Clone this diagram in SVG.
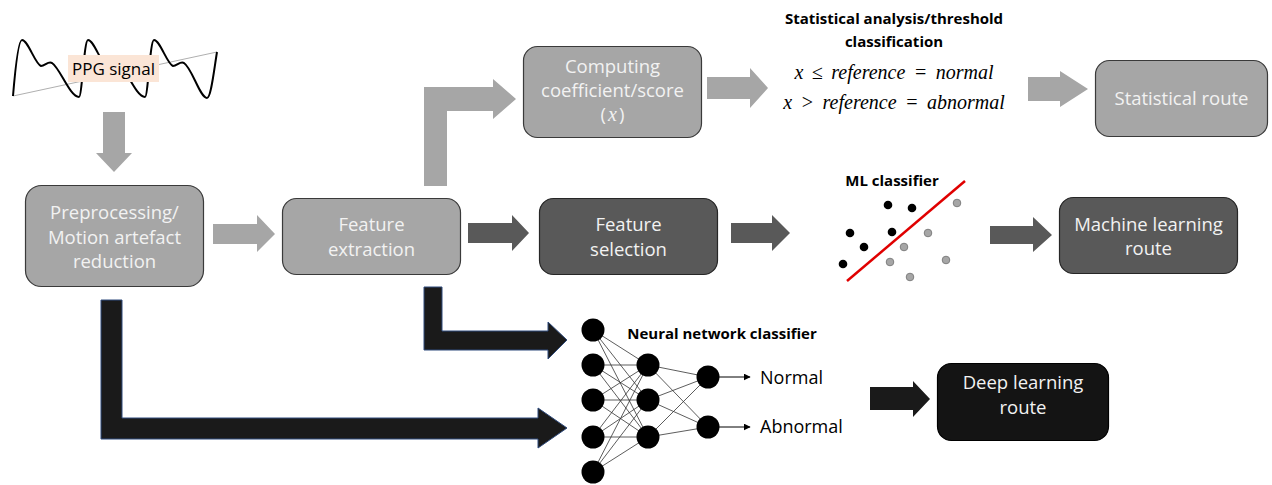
<svg xmlns="http://www.w3.org/2000/svg" width="1272" height="485" viewBox="0 0 1272 485">
<defs>
<style>
.box{stroke-width:1.2}
.light{fill:#a6a6a6;stroke:#3a3a3a}
.dark{fill:#595959;stroke:#262626}
.black{fill:#141414;stroke:#000}
.bt{font-family:"Open Sans","Liberation Sans",sans-serif;font-size:18.5px;fill:#f2f2f2;text-anchor:middle}
.title{font-family:"Open Sans","Liberation Sans",sans-serif;font-size:15px;font-weight:bold;fill:#000;text-anchor:middle}
.math{font-family:"Liberation Serif",serif;font-style:italic;font-size:20px;word-spacing:3.5px;fill:#000;text-anchor:middle}
.lbl{font-family:"Open Sans","Liberation Sans",sans-serif;font-size:18px;fill:#000}
.ga{fill:#a6a6a6}
.da{fill:#595959}
.ba{fill:#1a1a1a;stroke:#2f4b7c;stroke-width:1}
.nn{stroke:#333;stroke-width:0.8;fill:none}
.bd{fill:#000}
.gd{fill:#a6a6a6;stroke:#7f7f7f;stroke-width:1}
</style>
<marker id="ah" viewBox="0 0 10 10" refX="9" refY="5" markerWidth="7" markerHeight="7" orient="auto" markerUnits="userSpaceOnUse">
<path d="M0,0 L10,5 L0,10 z" fill="#000"/>
</marker>
</defs>

<g id="ppg-signal">
<line x1="13" y1="96" x2="217" y2="52" stroke="#9a9a9a" stroke-width="0.8"/>
<path d="M13,96 C16,60 19,40 22,40 C28,40 35,64 41,66 C45,66 48,61 52,63 C60,68 70,97 79,97 C82,97 84,40 88,40 C94,40 101,64 107,66 C111,66 114,61 118,63 C126,68 136,97 145,97 C148,97 150,40 154,40 C160,40 167,64 173,66 C177,66 180,61 184,63 C192,68 200,98 207,98 C211,98 214,70 217,52" fill="none" stroke="#000" stroke-width="2"/>
<rect x="68" y="55" width="91" height="27" fill="#fbe5d6"/>
<text x="113.5" y="75" class="lbl" style="font-size:17px" text-anchor="middle">PPG signal</text>
</g>

<g id="connectors">
<polygon class="ga" points="103,112 125,112 125,153 132,153 114,172 96,153 103,153"/>
<polygon class="ga" points="213,224 257,224 257,215 275,234 257,252 257,244 213,244"/>
<polygon class="ga" points="424,186 424,87 493,87 493,79 516,99 493,119 493,111 447,111 447,186"/>
<polygon class="ga" points="707,77 750,77 750,68 768,88 750,108 750,99 707,99"/>
<polygon class="ga" points="1028,77 1060,77 1060,71 1088,89 1060,107 1060,101 1028,101"/>
<polygon class="da" points="468,223 512,223 512,215 529,233 512,251 512,243 468,243"/>
<polygon class="da" points="731,223 772,223 772,215 790,233 772,251 772,243 731,243"/>
<polygon class="da" points="990,226 1033,226 1033,217 1052,235 1033,252 1033,244 990,244"/>
<polygon class="ba" points="101,300 122,300 122,418 538,418 538,408 567,428 538,448 538,439 101,439"/>
<polygon class="ba" points="424,287 442,287 442,331 548,331 548,322 567,340 548,359 548,350 424,350"/>
<polygon fill="#1a1a1a" points="870,387 913,387 913,381 930,399 913,417 913,410 870,410"/>
</g>

<g id="preprocessing">
<rect class="box light" x="25.5" y="185.5" width="178" height="101" rx="16"/>
<text class="bt" x="114.5" y="219">Preprocessing/</text>
<text class="bt" x="114.5" y="243.5">Motion artefact</text>
<text class="bt" x="114.5" y="268">reduction</text>
</g>

<g id="feature-extraction">
<rect class="box light" x="282.5" y="198.5" width="178" height="76" rx="14"/>
<text class="bt" x="371.5" y="231">Feature</text>
<text class="bt" x="371.5" y="256">extraction</text>
</g>

<g id="computing">
<rect class="box light" x="523.5" y="46.5" width="178" height="91" rx="14"/>
<text class="bt" x="612.5" y="73">Computing</text>
<text class="bt" x="612.5" y="96.5">coefficient/score</text>
<text class="bt" x="612.5" y="121">(<tspan dx="2" font-family="Liberation Serif" font-style="italic" font-size="20px">x</tspan><tspan dx="2">)</tspan></text>
</g>

<g id="feature-selection">
<rect class="box dark" x="539.5" y="198.5" width="178" height="76" rx="14"/>
<text class="bt" x="628.5" y="231">Feature</text>
<text class="bt" x="628.5" y="256">selection</text>
</g>

<g id="statistical-analysis">
<text class="title" x="894" y="24">Statistical analysis/threshold</text>
<text class="title" x="894" y="47">classification</text>
<text class="math" x="894" y="79">x ≤ reference = normal</text>
<text class="math" x="894" y="109">x &gt; reference = abnormal</text>
</g>

<g id="statistical-route">
<rect class="box light" x="1095.5" y="60.5" width="172" height="76" rx="14"/>
<text class="bt" x="1181.5" y="105">Statistical route</text>
</g>

<g id="ml-classifier">
<text class="title" x="892" y="186">ML classifier</text>
<line x1="847" y1="281" x2="965" y2="181" stroke="#e00000" stroke-width="2.5"/>
<circle class="bd" cx="888" cy="205" r="4.3"/>
<circle class="bd" cx="912" cy="208" r="4.3"/>
<circle class="bd" cx="850" cy="233" r="4.3"/>
<circle class="bd" cx="892" cy="232" r="4.3"/>
<circle class="bd" cx="864" cy="247" r="4.3"/>
<circle class="bd" cx="843" cy="264" r="4.3"/>
<circle class="gd" cx="957" cy="203" r="3.8"/>
<circle class="gd" cx="928" cy="233" r="3.8"/>
<circle class="gd" cx="904" cy="247" r="3.8"/>
<circle class="gd" cx="890" cy="262" r="3.8"/>
<circle class="gd" cx="946" cy="260" r="3.8"/>
<circle class="gd" cx="910" cy="277" r="3.8"/>
</g>

<g id="ml-route">
<rect class="box dark" x="1059.5" y="197.5" width="178" height="76" rx="14"/>
<text class="bt" x="1148.5" y="231">Machine learning</text>
<text class="bt" x="1148.5" y="255">route</text>
</g>

<g id="neural-network">
<text class="title" x="722" y="339">Neural network classifier</text>
<g class="nn">
<path d="M593,330 L648,365 M593,330 L648,400 M593,330 L648,437 M593,365 L648,365 M593,365 L648,400 M593,365 L648,437 M593,400 L648,365 M593,400 L648,400 M593,400 L648,437 M593,437 L648,365 M593,437 L648,400 M593,437 L648,437 M593,472 L648,365 M593,472 L648,400 M593,472 L648,437"/>
<path d="M648,365 L708,377 M648,365 L708,427 M648,400 L708,377 M648,400 L708,427 M648,437 L708,377 M648,437 L708,427"/>
</g>
<g fill="#000">
<circle cx="593" cy="330" r="11.5"/>
<circle cx="593" cy="365" r="11.5"/>
<circle cx="593" cy="400" r="11.5"/>
<circle cx="593" cy="437" r="11.5"/>
<circle cx="593" cy="472" r="11.5"/>
<circle cx="648" cy="365" r="11.5"/>
<circle cx="648" cy="400" r="11.5"/>
<circle cx="648" cy="437" r="11.5"/>
<circle cx="708" cy="377" r="11.5"/>
<circle cx="708" cy="427" r="11.5"/>
</g>
<line x1="719" y1="377" x2="750" y2="377" stroke="#000" stroke-width="1" marker-end="url(#ah)"/>
<line x1="719" y1="427" x2="750" y2="427" stroke="#000" stroke-width="1" marker-end="url(#ah)"/>
<text class="lbl" x="760" y="384">Normal</text>
<text class="lbl" x="760" y="433">Abnormal</text>
</g>

<g id="dl-route">
<rect class="box black" x="937.5" y="363.5" width="171" height="77" rx="14"/>
<text class="bt" x="1023" y="389">Deep learning</text>
<text class="bt" x="1023" y="414">route</text>
</g>
</svg>
